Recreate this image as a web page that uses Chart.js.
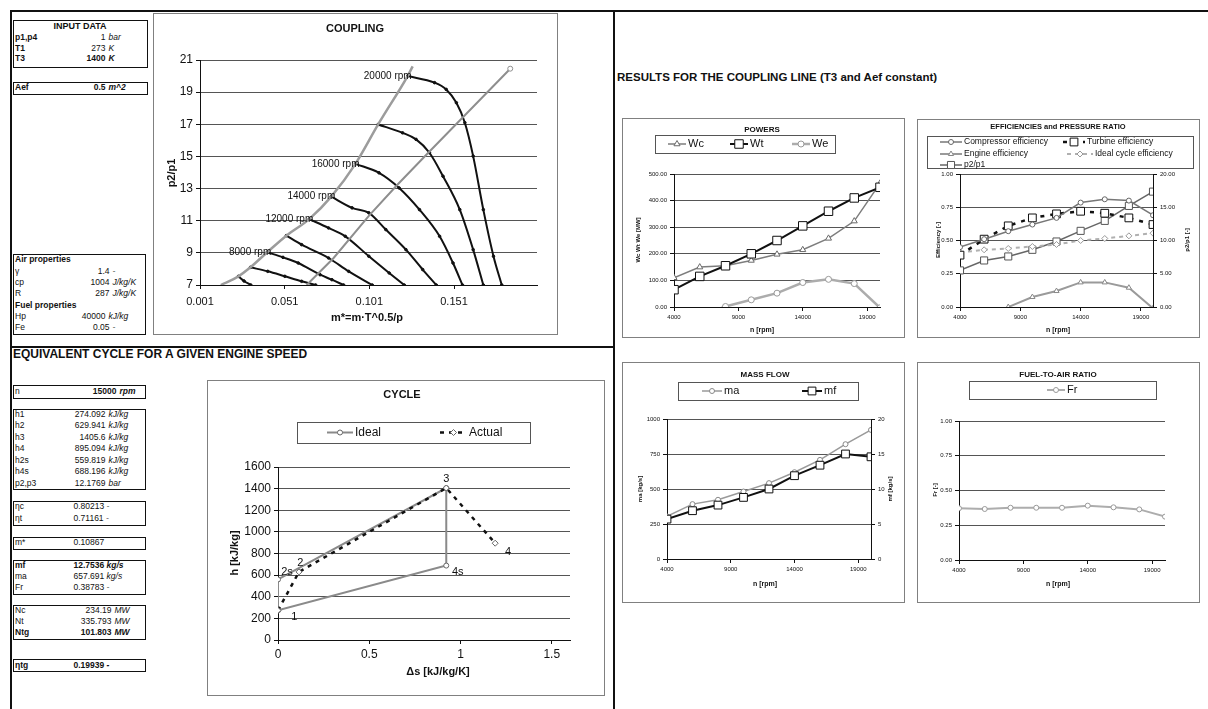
<!DOCTYPE html>
<html>
<head>
<meta charset="utf-8">
<title>Gas turbine coupling</title>
<script src="https://cdn.jsdelivr.net/npm/chart.js@4.4.1/dist/chart.umd.min.js"></script>
<style>
body { margin: 0; background: #fff; font-family: 'Liberation Sans', Arial, sans-serif; color: #111; }
#page { position: relative; width: 1208px; height: 709px; overflow: hidden; }
.ln { position: absolute; background: #111; }
.tb { position: absolute; border: 1.5px solid #111; box-sizing: border-box; font-size: 8.5px; }
.tb span { position: absolute; height: 11px; line-height: 11px; white-space: nowrap; }
.b { font-weight: bold; }
.i { font-style: italic; }
.hd { position: absolute; font-weight: bold; white-space: nowrap; }
canvas { position: absolute; }
</style>
</head>
<body>
<div id="page">
  <div class="ln" style="left:10px;top:10px;width:1198px;height:2px"></div>
  <div class="ln" style="left:10px;top:10px;width:2px;height:699px"></div>
  <div class="ln" style="left:613px;top:10px;width:2px;height:699px"></div>
  <div class="ln" style="left:10px;top:346px;width:605px;height:2px"></div>
  <div class="hd" style="left:13px;top:347px;font-size:12px;line-height:14px">EQUIVALENT CYCLE FOR A GIVEN ENGINE SPEED</div>
  <div class="hd" style="left:617px;top:70px;font-size:11.5px;line-height:14px">RESULTS FOR THE COUPLING LINE (T3 and Aef constant)</div>

  <canvas id="cCoupling" width="405" height="322" style="left:153px;top:13px"></canvas>
  <canvas id="cCycle" width="398" height="316" style="left:207px;top:380px"></canvas>
  <canvas id="cPowers" width="283" height="220" style="left:622px;top:118px"></canvas>
  <canvas id="cEff" width="283" height="219" style="left:917px;top:119px"></canvas>
  <canvas id="cMass" width="283" height="241" style="left:622px;top:362px"></canvas>
  <canvas id="cFuel" width="283" height="241" style="left:917px;top:362px"></canvas>
</div>

<script>
// ---- data ----
const rpm = [4000, 6000, 8000, 10000, 12000, 14000, 16000, 18000, 20000];
const rpmTicks = [4000, 9000, 14000, 19000];

// powers [MW]
const wc = [110, 150, 155, 175, 198, 215, 258, 323, 465];
const wt = [65, 115, 155, 200, 250, 305, 360, 410, 450];
const we = [-45, -35, 2, 27, 52, 92, 104, 88, -3];
const powerTicks = [0, 100, 200, 300, 400, 500];

// efficiencies and pressure ratio
const etaComp = [0.45, 0.51, 0.57, 0.62, 0.67, 0.785, 0.81, 0.80, 0.69];
const etaTurb = [0.39, 0.51, 0.61, 0.67, 0.70, 0.72, 0.705, 0.67, 0.62];
const etaEng = [-0.2, -0.15, 0.0, 0.075, 0.12, 0.185, 0.185, 0.145, -0.01];
const etaIdeal = [0.41, 0.43, 0.44, 0.455, 0.47, 0.50, 0.515, 0.535, 0.555];
const p2p1 = [5.5, 7.0, 7.6, 8.6, 9.85, 11.45, 12.95, 15.2, 17.35];
const effTicks = [0, 0.25, 0.5, 0.75, 1];
const prTicks = [0, 5, 10, 15, 20];

// mass flow [kg/s]
const ma = [304, 392, 423, 482, 542, 620, 708, 820, 922];
const mf = [5.7, 6.9, 7.7, 8.8, 10.0, 11.9, 13.4, 15.0, 14.6];
const maTicks = [0, 250, 500, 750, 1000];
const mfTicks = [0, 5, 10, 15, 20];

// fuel-to-air ratio
const fr = [0.372, 0.367, 0.376, 0.376, 0.376, 0.391, 0.379, 0.364, 0.312];
const frTicks = [0, 0.25, 0.5, 0.75, 1];

// compressor map (coupling)
const speedRpm = [4000, 6000, 8000, 10000, 12000, 14000, 16000, 18000, 20000];
const speedM = [
  [0.0237, 0.027, 0.031],
  [0.0308, 0.041, 0.0511, 0.061, 0.0693],
  [0.0407, 0.050, 0.059, 0.0719, 0.0789, 0.0858],
  [0.052, 0.061, 0.0769, 0.0888, 0.1027],
  [0.0655, 0.0769, 0.0868, 0.1007, 0.1127, 0.1216],
  [0.0785, 0.0908, 0.1007, 0.1107, 0.1226, 0.1325, 0.1405],
  [0.0928, 0.1067, 0.1186, 0.1306, 0.1425, 0.1504, 0.156],
  [0.1062, 0.1206, 0.1286, 0.1365, 0.1445, 0.1544, 0.1623, 0.1683],
  [0.1236, 0.1395, 0.1464, 0.1524, 0.1574, 0.1623, 0.1683, 0.1743, 0.1792]
];
const speedPr = [
  [7.54, 7.25, 7.0],
  [8.10, 7.85, 7.54, 7.23, 7.0],
  [9.04, 8.72, 8.37, 7.64, 7.33, 7.0],
  [10.07, 9.51, 8.68, 7.85, 7.0],
  [11.1, 10.55, 10.03, 8.79, 7.75, 7.0],
  [12.5, 11.80, 11.49, 10.45, 9.20, 7.96, 7.0],
  [14.54, 13.98, 13.04, 11.69, 10.03, 8.37, 7.0],
  [16.99, 16.47, 16.06, 15.23, 13.77, 11.69, 9.20, 7.0],
  [20.0, 19.59, 19.17, 18.34, 17.10, 15.02, 11.69, 8.79, 7.0]
];
const speedTagged = [8000, 12000, 14000, 16000, 20000];
const surgeM = [0.0133, 0.0237, 0.0308, 0.0407, 0.052, 0.0655, 0.0785, 0.0928, 0.1062, 0.1236, 0.1266];
const surgePr = [7.0, 7.54, 8.10, 9.04, 10.07, 11.1, 12.5, 14.54, 16.99, 20.0, 20.6];
const coupM = [0.064, 0.0799, 0.1007, 0.1177, 0.1355, 0.1564, 0.1842];
const coupPr = [7.0, 8.68, 11.3, 13.25, 15.2, 17.45, 20.46];
const couplingXTicks = [0.001, 0.051, 0.101, 0.151];
const couplingYTicks = [7, 9, 11, 13, 15, 17, 19, 21];

// h-s cycle at 15000 rpm
const idealDs = [0, 0, 0.922, 0.922, 0];
const idealH = [274.1, 559.8, 1405.6, 688.2, 274.1];
const actualDs = [0, 0.115, 0.922, 1.19];
const actualH = [274.1, 629.9, 1405.6, 895.1];
const cycleTags = ['1', '2s', '2', '3', '4s', '4'];
const cycleTagDs = [0.09, 0.049, 0.122, 0.922, 0.985, 1.26];
const cycleTagH = [215, 631, 717, 1492, 625, 815];
const cycleXTicks = [0, 0.5, 1, 1.5];
const cycleYTicks = [0, 200, 400, 600, 800, 1000, 1200, 1400, 1600];

// ---- side tables ----
const panels = [
  {x: 13, y: 20, w: 135, h: 48, rows: [
    {y: 26.5, t: 'INPUT DATA', c: 1},
    {y: 38, t: 'p1,p4', b: 1, v: '1', u: 'bar'},
    {y: 48.5, t: 'T1', b: 1, v: '273', u: 'K'},
    {y: 59, t: 'T3', b: 1, v: '1400', u: 'K', vb: 1}
  ]},
  {x: 13, y: 82, w: 135, h: 13, rows: [
    {y: 88, t: 'Aef', b: 1, v: '0.5', u: 'm^2', vb: 1}
  ]},
  {x: 13, y: 254, w: 133, h: 81, rows: [
    {y: 260, t: 'Air properties', b: 1},
    {y: 271.5, t: 'γ', v: '1.4', u: '-', vr: 110},
    {y: 283, t: 'cp', v: '1004', u: 'J/kg/K', vr: 110},
    {y: 294, t: 'R', v: '287', u: 'J/kg/K', vr: 110},
    {y: 305.5, t: 'Fuel properties', b: 1},
    {y: 317, t: 'Hp', v: '40000', u: 'kJ/kg', vr: 106},
    {y: 328, t: 'Fe', v: '0.05', u: '-', vr: 110}
  ]},
  {x: 13, y: 385, w: 133, h: 14, rows: [
    {y: 392, t: 'n', v: '15000', u: 'rpm', vb: 1, vr: 117}
  ]},
  {x: 13, y: 409, w: 133, h: 81, rows: [
    {y: 414.5, t: 'h1', v: '274.092', u: 'kJ/kg'},
    {y: 426, t: 'h2', v: '629.941', u: 'kJ/kg'},
    {y: 437.5, t: 'h3', v: '1405.6', u: 'kJ/kg'},
    {y: 449, t: 'h4', v: '895.094', u: 'kJ/kg'},
    {y: 460.5, t: 'h2s', v: '559.819', u: 'kJ/kg'},
    {y: 472, t: 'h4s', v: '688.196', u: 'kJ/kg'},
    {y: 483.5, t: 'p2,p3', v: '12.1769', u: 'bar'}
  ]},
  {x: 13, y: 501, w: 133, h: 25, rows: [
    {y: 507, t: 'ηc', v: '0.80213', u: '-', vl: 74},
    {y: 519, t: 'ηt', v: '0.71161', u: '-', vl: 74}
  ]},
  {x: 13, y: 537, w: 133, h: 13, rows: [
    {y: 543, t: 'm*', v: '0.10867', vl: 74}
  ]},
  {x: 13, y: 560, w: 133, h: 35, rows: [
    {y: 566, t: 'mf', b: 1, v: '12.7536', u: 'kg/s', vl: 74, vb: 1},
    {y: 577, t: 'ma', v: '657.691', u: 'kg/s', vl: 74},
    {y: 588, t: 'Fr', v: '0.38783', u: '-', vl: 74}
  ]},
  {x: 13, y: 605, w: 133, h: 35, rows: [
    {y: 611, t: 'Nc', v: '234.19', u: 'MW', vr: 112},
    {y: 622, t: 'Nt', v: '335.793', u: 'MW', vr: 112},
    {y: 633, t: 'Ntg', b: 1, v: '101.803', u: 'MW', vr: 112, vb: 1}
  ]},
  {x: 13, y: 659, w: 133, h: 13, rows: [
    {y: 665.5, t: 'ηtg', b: 1, v: '0.19939', u: '-', vl: 74, vb: 1}
  ]}
];

function addSpan(parent, text, css, cls) {
  const s = document.createElement('span');
  s.textContent = text;
  if (cls) s.className = cls;
  Object.assign(s.style, css);
  parent.appendChild(s);
  return s;
}

const page = document.getElementById('page');
panels.forEach(p => {
  const d = document.createElement('div');
  d.className = 'tb';
  Object.assign(d.style, {left: p.x + 'px', top: p.y + 'px', width: p.w + 'px', height: p.h + 'px'});
  p.rows.forEach(r => {
    const top = (r.y - p.y - 7) + 'px';
    if (r.c) {
      addSpan(d, r.t, {left: '0px', width: (p.w - 3) + 'px', textAlign: 'center', top: top, fontSize: '9px'}, 'b');
      return;
    }
    addSpan(d, r.t, {left: '1px', top: top}, r.b ? 'b' : '');
    if (r.v == null) return;
    const vcls = r.vb ? 'b' : '';
    if (r.vl) {
      const s = addSpan(d, r.v + ' ', {left: (r.vl - p.x - 1.5) + 'px', top: top}, vcls);
      if (r.u) {
        const u = document.createElement('span');
        u.className = 'i';
        u.style.position = 'static';
        u.textContent = r.u;
        s.appendChild(u);
      }
    } else {
      const vr = r.vr || 106;
      addSpan(d, r.v, {left: '0px', width: (vr - p.x - 1.5) + 'px', textAlign: 'right', top: top}, vcls);
      if (r.u) addSpan(d, r.u, {left: (vr - p.x + 1.5) + 'px', top: top}, 'i' + (r.vb ? ' b' : ''));
    }
  });
  page.appendChild(d);
});

// ---- chart helpers ----
Chart.defaults.font.family = "'Liberation Sans', Arial, sans-serif";
Chart.defaults.color = '#111';
const FF = "'Liberation Sans', Arial, sans-serif";
const decorCfg = {};

function marker(c, style, r, x, y, fill, stroke, bw) {
  if (!r) return;
  c.beginPath();
  if (style === 'rect') {
    const h = r * Math.SQRT1_2;
    c.rect(x - h, y - h, 2 * h, 2 * h);
  } else if (style === 'triangle') {
    c.moveTo(x, y - r);
    c.lineTo(x + r * 0.87, y + r * 0.5);
    c.lineTo(x - r * 0.87, y + r * 0.5);
    c.closePath();
  } else if (style === 'rectRot') {
    c.moveTo(x, y - r); c.lineTo(x + r, y); c.lineTo(x, y + r); c.lineTo(x - r, y);
    c.closePath();
  } else {
    c.arc(x, y, r, 0, Math.PI * 2);
  }
  c.fillStyle = fill; c.fill();
  c.lineWidth = bw || 1; c.strokeStyle = stroke; c.stroke();
}

// frame, boxed legend and free texts, Excel style
const decor = {
  id: 'decor',
  afterDraw(chart) {
    const cfg = decorCfg[chart.canvas.id];
    const c = chart.ctx;
    c.save();
    c.strokeStyle = '#808080'; c.lineWidth = 1;
    c.strokeRect(0.5, 0.5, chart.width - 1, chart.height - 1);
    c.textBaseline = 'middle';
    if (cfg.legend) {
      const L = cfg.legend;
      c.strokeStyle = '#555'; c.lineWidth = 1;
      c.strokeRect(L.x + 0.5, L.y + 0.5, L.w, L.h);
      L.items.forEach(it => {
        const ds = chart.data.datasets[it.ds];
        c.strokeStyle = ds.borderColor; c.lineWidth = ds.borderWidth;
        c.setLineDash(ds.borderDash || []);
        c.beginPath(); c.moveTo(it.x, it.y); c.lineTo(it.x + it.len, it.y); c.stroke();
        c.setLineDash([]);
        const r = Array.isArray(ds.pointRadius) ? 2.5 : ds.pointRadius;
        marker(c, ds.pointStyle, r, it.x + it.len / 2, it.y, ds.pointBackgroundColor, ds.pointBorderColor, ds.pointBorderWidth);
        c.fillStyle = '#111'; c.font = L.font; c.textAlign = 'left';
        c.fillText(ds.label, it.x + it.len + 2, it.y);
      });
    }
    (cfg.texts || []).forEach(t => {
      let x = t.x, y = t.y;
      if (t.data) {
        x = chart.scales.x.getPixelForValue(t.x);
        y = chart.scales.y.getPixelForValue(t.y);
      }
      c.save();
      c.font = t.font;
      c.fillStyle = '#111';
      c.textAlign = t.align || 'center';
      c.translate(x + (t.dx || 0), y + (t.dy || 0));
      if (t.rot) c.rotate(t.rot * Math.PI / 180);
      c.fillText(t.text, 0, 0);
      c.restore();
    });
    c.restore();
  }
};

function axis(min, max, ticks, digits, size, fontSize, extra) {
  return Object.assign({
    type: 'linear',
    min: min,
    max: max,
    afterBuildTicks: a => { a.ticks = ticks.map(v => ({value: v})); },
    ticks: {
      font: {size: fontSize},
      padding: 3,
      autoSkip: false,
      maxRotation: 0,
      callback: v => digits == null ? String(v) : Number(v).toFixed(digits)
    },
    grid: {color: '#555', lineWidth: 1, tickLength: 4, tickColor: '#111'},
    border: {color: '#111', width: 1},
    afterFit: s => { if (s.isHorizontal()) s.height = size; else s.width = size; }
  }, extra || {});
}
const xGrid = {drawOnChartArea: false, tickLength: 4, color: '#111'};
const sideGrid = {drawOnChartArea: false, tickLength: 4, color: '#111'};

function ser(xs, ys, st) {
  return Object.assign({
    data: xs.map((x, i) => ({x: x, y: ys[i]})),
    showLine: true,
    borderWidth: 1.5,
    pointRadius: 3,
    pointStyle: 'circle',
    pointBackgroundColor: '#fff',
    pointBorderWidth: 1,
    tension: 0
  }, st);
}

function makeChart(id, o) {
  decorCfg[id] = o.decor;
  return new Chart(document.getElementById(id), {
    type: 'scatter',
    data: {datasets: o.datasets},
    options: {
      responsive: false,
      animation: false,
      events: [],
      layout: {padding: o.padding},
      plugins: {legend: {display: false}, tooltip: {enabled: false}},
      scales: o.scales
    },
    plugins: [decor]
  });
}

// ---- COUPLING ----
const speedSets = speedM.map((m, k) => ser(m, speedPr[k], {
  label: speedRpm[k] + ' rpm', borderColor: '#111', borderWidth: 2,
  pointRadius: 1.3, pointBackgroundColor: '#111', pointBorderColor: '#111',
  cubicInterpolationMode: 'monotone'
}));
makeChart('cCoupling', {
  padding: {left: 0, top: 47, right: 21, bottom: 0},
  datasets: [
    ser(surgeM, surgePr, {label: 'surge', borderColor: '#9c9c9c', borderWidth: 2.5, pointRadius: 0, cubicInterpolationMode: 'monotone'}),
    ser(coupM, coupPr, {label: 'coupling', borderColor: '#8e8e8e', borderWidth: 2,
      pointRadius: coupM.map((v, i) => i === coupM.length - 1 ? 2.5 : 0), pointBorderColor: '#8e8e8e'}),
    ...speedSets
  ],
  scales: {
    x: axis(0.001, 0.2, couplingXTicks, 3, 50, 11, {grid: xGrid, ticks: {font: {size: 11}, padding: 6, autoSkip: false, maxRotation: 0, callback: v => Number(v).toFixed(3)}}),
    y: axis(7, 21, couplingYTicks, 0, 47, 12)
  },
  decor: {
    texts: [
      {text: 'COUPLING', x: 202, y: 16, font: 'bold 11px ' + FF},
      {text: 'p2/p1', x: 19, y: 160, rot: -90, font: 'bold 11px ' + FF},
      {text: 'm*=m·T^0.5/p', x: 214, y: 305, font: 'bold 11px ' + FF},
      ...speedTagged.map(n => {
        const k = speedRpm.indexOf(n);
        return {text: n + ' rpm', x: speedM[k][0], y: speedPr[k][0], data: true, align: 'right', dx: 4, font: '10px ' + FF};
      })
    ]
  }
});

// ---- CYCLE ----
makeChart('cCycle', {
  padding: {left: 0, top: 87, right: 35, bottom: 6},
  datasets: [
    ser(actualDs, actualH, {label: 'Actual', borderColor: '#111', borderWidth: 2.5, borderDash: [4, 5],
      pointStyle: 'rectRot', pointRadius: 3, pointBorderColor: '#666'}),
    ser(idealDs, idealH, {label: 'Ideal', borderColor: '#8a8a8a', borderWidth: 2,
      pointRadius: 2.5, pointBorderColor: '#666'})
  ],
  scales: {
    x: axis(0, 1.6, cycleXTicks, null, 50, 12, {grid: xGrid}),
    y: axis(0, 1600, cycleYTicks, 0, 71, 12)
  },
  decor: {
    legend: {x: 90, y: 42, w: 233, h: 21, font: '12px ' + FF, items: [
      {ds: 1, x: 120, y: 52.5, len: 26},
      {ds: 0, x: 233, y: 52.5, len: 27}
    ]},
    texts: [
      {text: 'CYCLE', x: 195, y: 15, font: 'bold 11px ' + FF},
      {text: 'h [kJ/kg]', x: 28, y: 173, rot: -90, font: 'bold 11px ' + FF},
      {text: 'Δs [kJ/kg/K]', x: 231, y: 292, font: 'bold 11px ' + FF},
      ...cycleTags.map((t, i) => ({text: t, x: cycleTagDs[i], y: cycleTagH[i], data: true, font: '11px ' + FF}))
    ]
  }
});

// ---- POWERS ----
makeChart('cPowers', {
  padding: {left: 0, top: 56, right: 25, bottom: 0},
  datasets: [
    ser(rpm, wt, {label: 'Wt', borderColor: '#111', borderWidth: 2, pointStyle: 'rect', pointRadius: 6, pointBorderColor: '#111'}),
    ser(rpm, wc, {label: 'Wc', borderColor: '#7d7d7d', borderWidth: 1.5, pointStyle: 'triangle', pointRadius: 3.5, pointBorderColor: '#6a6a6a'}),
    ser(rpm, we, {label: 'We', borderColor: '#acacac', borderWidth: 2.5, pointRadius: 3, pointBorderColor: '#999'})
  ],
  scales: {
    x: axis(4000, 20000, rpmTicks, 0, 31, 6, {grid: xGrid}),
    y: axis(0, 500, powerTicks, 2, 52, 6)
  },
  decor: {
    legend: {x: 33, y: 17, w: 180, h: 18, font: '11px ' + FF, items: [
      {ds: 1, x: 46, y: 26, len: 18},
      {ds: 0, x: 108, y: 26, len: 18},
      {ds: 2, x: 170, y: 26, len: 18}
    ]},
    texts: [
      {text: 'POWERS', x: 140, y: 12, font: 'bold 8px ' + FF},
      {text: 'Wc Wt We [MW]', x: 16, y: 122, rot: -90, font: 'bold 6px ' + FF},
      {text: 'n [rpm]', x: 140, y: 212, font: 'bold 7px ' + FF}
    ]
  }
});

// ---- EFFICIENCIES and PRESSURE RATIO ----
makeChart('cEff', {
  padding: {left: 0, top: 55, right: 0, bottom: 0},
  datasets: [
    ser(rpm, etaComp, {label: 'Compressor efficiency', borderColor: '#777', borderWidth: 1.5, pointRadius: 2.5, pointBorderColor: '#666'}),
    ser(rpm, etaTurb, {label: 'Turbine efficiency', borderColor: '#111', borderWidth: 2.5, borderDash: [4, 6], pointStyle: 'rect', pointRadius: 5.5, pointBorderColor: '#111'}),
    ser(rpm, etaEng, {label: 'Engine efficiency', borderColor: '#9a9a9a', borderWidth: 2, pointStyle: 'triangle', pointRadius: 3, pointBorderColor: '#888'}),
    ser(rpm, etaIdeal, {label: 'Ideal cycle efficiency', borderColor: '#b0b0b0', borderWidth: 2, borderDash: [4, 4], pointStyle: 'rectRot', pointRadius: 3, pointBorderColor: '#999'}),
    ser(rpm, p2p1, {label: 'p2/p1', yAxisID: 'y2', borderColor: '#666', borderWidth: 1.5, pointStyle: 'rect', pointRadius: 5, pointBorderColor: '#555'})
  ],
  scales: {
    x: axis(4000, 20000, rpmTicks, 0, 31, 6, {grid: xGrid}),
    y: axis(0, 1, effTicks, 2, 43, 6),
    y2: axis(0, 20, prTicks, 2, 47, 6, {position: 'right', grid: sideGrid})
  },
  decor: {
    legend: {x: 10, y: 17, w: 266, h: 32, font: '8.5px ' + FF, items: [
      {ds: 0, x: 23, y: 23, len: 22},
      {ds: 1, x: 146, y: 23, len: 22},
      {ds: 2, x: 23, y: 35, len: 22},
      {ds: 3, x: 150, y: 35, len: 26},
      {ds: 4, x: 23, y: 46, len: 22}
    ]},
    texts: [
      {text: 'EFFICIENCIES and PRESSURE RATIO', x: 141, y: 8, font: 'bold 7.5px ' + FF},
      {text: 'Efficiency [-]', x: 21, y: 121, rot: -90, font: 'bold 6px ' + FF},
      {text: 'p2/p1 [-]', x: 270, y: 121, rot: -90, font: 'bold 6px ' + FF},
      {text: 'n [rpm]', x: 141, y: 211, font: 'bold 7px ' + FF}
    ]
  }
});

// ---- MASS FLOW ----
makeChart('cMass', {
  padding: {left: 0, top: 57, right: 0, bottom: 0},
  datasets: [
    ser(rpm, mf, {label: 'mf', yAxisID: 'y2', borderColor: '#111', borderWidth: 2, pointStyle: 'rect', pointRadius: 5.5, pointBorderColor: '#111'}),
    ser(rpm, ma, {label: 'ma', borderColor: '#9a9a9a', borderWidth: 1.5, pointRadius: 2.5, pointBorderColor: '#888'})
  ],
  scales: {
    x: axis(4000, 20000, rpmTicks, 0, 44, 6, {grid: xGrid}),
    y: axis(0, 1000, maTicks, 0, 45, 6),
    y2: axis(0, 20, mfTicks, 0, 34, 6, {position: 'right', grid: sideGrid})
  },
  decor: {
    legend: {x: 56, y: 20, w: 180, h: 18, font: '11px ' + FF, items: [
      {ds: 1, x: 80, y: 29, len: 20},
      {ds: 0, x: 180, y: 29, len: 20}
    ]},
    texts: [
      {text: 'MASS FLOW', x: 143, y: 13, font: 'bold 8px ' + FF},
      {text: 'ma [kg/s]', x: 18, y: 127, rot: -90, font: 'bold 6px ' + FF},
      {text: 'mf [kg/s]', x: 268, y: 127, rot: -90, font: 'bold 6px ' + FF},
      {text: 'n [rpm]', x: 143, y: 222, font: 'bold 7px ' + FF}
    ]
  }
});

// ---- FUEL-TO-AIR RATIO ----
makeChart('cFuel', {
  padding: {left: 0, top: 59, right: 35, bottom: 0},
  datasets: [
    ser(rpm, fr, {label: 'Fr', borderColor: '#adadad', borderWidth: 2, pointRadius: 2.5, pointBorderColor: '#999'})
  ],
  scales: {
    x: axis(4000, 20000, rpmTicks, 0, 43, 6, {grid: xGrid}),
    y: axis(0, 1, frTicks, 2, 42, 6)
  },
  decor: {
    legend: {x: 52, y: 19, w: 187, h: 18, font: '11px ' + FF, items: [
      {ds: 0, x: 130, y: 28, len: 18}
    ]},
    texts: [
      {text: 'FUEL-TO-AIR RATIO', x: 141, y: 13, font: 'bold 8px ' + FF},
      {text: 'Fr [-]', x: 18, y: 128, rot: -90, font: 'bold 6px ' + FF},
      {text: 'n [rpm]', x: 141, y: 222, font: 'bold 7px ' + FF}
    ]
  }
});
</script>
</body>
</html>
